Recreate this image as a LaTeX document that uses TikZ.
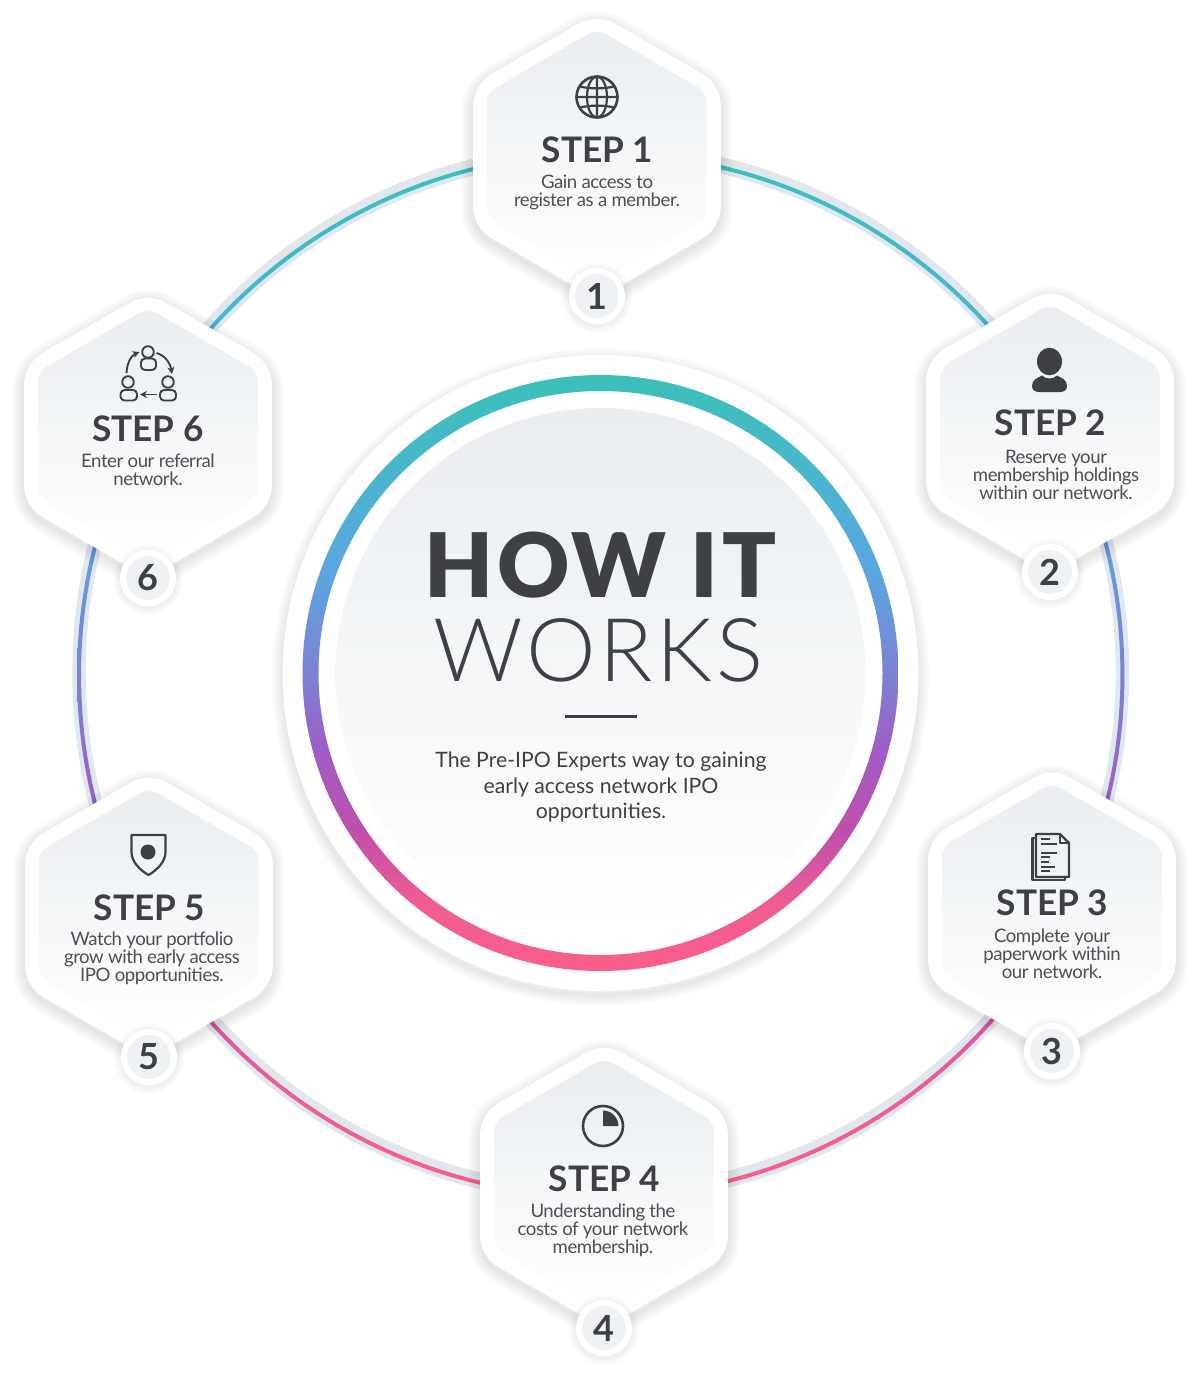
\documentclass[tikz,border=0pt]{standalone}
\usepackage{fontspec}
\usetikzlibrary{arrows.meta}
\setmainfont{Lato}
\newfontfamily\latoblack{Lato Black}[LetterSpace=4]
\newfontfamily\latolight{Lato Light}[LetterSpace=4]
\newfontfamily\latotight{Lato}[LetterSpace=-2.4]
\definecolor{ink}{HTML}{3E4043}
\definecolor{paleA}{HTML}{EAEEF1}
\definecolor{bandc}{HTML}{DFE7F1}
\definecolor{bandg}{HTML}{E5E6E7}
\definecolor{g1}{HTML}{3CC0B8}
\definecolor{g2}{HTML}{4AB5CE}
\definecolor{g3}{HTML}{5CA6E2}
\definecolor{g4}{HTML}{7C82D4}
\definecolor{g5}{HTML}{A05CC6}
\definecolor{g6}{HTML}{BD4FAC}
\definecolor{g7}{HTML}{EC5C94}
\definecolor{g8}{HTML}{FB5F88}
\pgfdeclareverticalshading{ringshade}{100bp}{
 color(0bp)=(g8); color(25bp)=(g8); color(31bp)=(g7); color(37bp)=(g6);
 color(43.5bp)=(g5); color(50bp)=(g4); color(58.5bp)=(g3); color(66bp)=(g2);
 color(75bp)=(g1); color(100bp)=(g1)}
\tikzset{
 x=0.5pt,y=-0.5pt,
 steptitle/.style={text=ink,inner sep=0,font=\fontsize{17.6}{18}\bfseries\selectfont},
 stepdesc/.style={text=ink!92,inner sep=0,align=center,font=\fontsize{9.3}{9}\latotight\selectfont},
 stepnum/.style={text=ink,inner sep=0,font=\fontsize{18}{18}\bfseries\selectfont},
 icon/.style={draw=ink,line width=1.3pt,line join=round},
 iconthin/.style={draw=ink,line width=.8pt,line join=round},
}
\newcommand{\hexpath}[3]{
 (#1,#2-#3) -- (#1+.866*#3,#2-.5*#3) -- (#1+.866*#3,#2+.5*#3) -- (#1,#2+#3) -- (#1-.866*#3,#2+.5*#3) -- (#1-.866*#3,#2-.5*#3) -- cycle}
\newcommand{\softhex}[2]{
 \foreach \w in {1,3,...,25}{
  \draw[black,opacity=.007,line width=\w*0.5pt,line join=round,rounded corners=10pt]
    \hexpath{#1}{#2+4}{143};}
 \fill[white,rounded corners=10pt] \hexpath{#1}{#2}{143};
 \shade[top color=paleA,bottom color=white,rounded corners=5pt] \hexpath{#1}{#2}{127};
}
\newcommand{\badge}[4]{
 \foreach \w in {1,3,...,15}{
  \draw[black,opacity=.007,line width=\w*0.5pt] (#1,#2+2) circle (28);}
 \fill[white] (#1,#2) circle (28);
 \fill[paleA!75] (#1,#2) circle (22);
 \node[stepnum] (#3) at (#1,#2) {#4};
}
\begin{document}
\begin{tikzpicture}
\useasboundingbox (0,0) rectangle (1200,1383);
\fill[white] (0,0) rectangle (1200,1383);
\coordinate (bandtop) at (600.75,671.5);
\coordinate (linec) at (600.75,675);
\coordinate (cen) at (600.5,673);
% outer ring
\draw[bandg,line width=6.6pt] (bandtop) circle (521.7);
\draw[bandc,line width=6.4pt] (linec) circle (521.7);
\shade[shading=ringshade,even odd rule] (linec) circle (523.7) (linec) circle (519.7);
% centre
\foreach \w in {1,3,...,23}{
 \draw[black,opacity=.006,line width=\w*0.5pt] (600.5,677) circle (318);}
\fill[white] (cen) circle (318);
\shade[shading=ringshade,even odd rule] (cen) circle (298) (cen) circle (282);
\shade[top color=paleA,bottom color=white] (cen) circle (265);
\node[inner sep=0,text=ink,font=\fontsize{44.5}{46}\latoblack\selectfont] (howit) at (600.5,565.5) {HOW IT};
\node[inner sep=0,text=ink,font=\fontsize{44}{46}\latolight\selectfont] (works) at (598.5,650.5) {WORKS};
\fill[ink] (565,715) rectangle (637,718);
\node[inner sep=0,text=ink,align=center,font=\fontsize{10.6}{12.8}\selectfont] (lead) at (601,787)
 {The Pre-IPO Experts way to gaining\\early access network IPO\\opportunities.};
% hexagons
\softhex{597}{156}\softhex{1050}{431}\softhex{1052}{910}\softhex{604}{1185}\softhex{149}{915}\softhex{148}{435}
\node[steptitle] (s1) at (597.5,150) {STEP 1};
\node[stepdesc] (d1) at (597,192) {Gain access to\\register as a member.};
\node[steptitle] (s2) at (1050.5,423) {STEP 2};
\node[stepdesc] (d2) at (1056,475) {Reserve your\\membership holdings\\within our network.};
\node[steptitle] (s3) at (1052.5,903) {STEP 3};
\node[stepdesc] (d3) at (1052,954) {Complete your\\paperwork within\\our network.};
\node[steptitle] (s4) at (604.5,1179) {STEP 4};
\node[stepdesc] (d4) at (603,1230.5) {Understanding the\\costs of your network\\membership.};
\node[steptitle] (s5) at (149.5,908) {STEP 5};
\node[stepdesc] (d5) at (152,958) {Watch your portfolio\\grow with early access\\IPO opportunities.};
\node[steptitle] (s6) at (148,429) {STEP 6};
\node[stepdesc] (d6) at (148,470) {Enter our referral\\network.};
\badge{597}{296}{b1}{1}
\badge{1050}{572}{b2}{2}
\badge{1052}{1051}{b3}{3}
\badge{604}{1328}{b4}{4}
\badge{149}{1057}{b5}{5}
\badge{148}{578}{b6}{6}
% globe
\begin{scope}[shift={(597,97)}]
 \draw[icon] (0,0) circle (20.5);
 \draw[iconthin,line width=1.1pt] (0,0) ellipse (10 and 20.5);
 \draw[iconthin,line width=1.1pt] (0,-20.5) -- (0,20.5) (-20.5,0) -- (20.5,0) (-17,-10.5) .. controls (-7,-8) and (7,-8) .. (17,-10.5) (-17,10.5) .. controls (-7,8) and (7,8) .. (17,10.5);
\end{scope}
% person
\fill[ink] (1049.5,361.5) ellipse (12.5 and 13.8);
\fill[ink] (1032,386) .. controls (1032,380) and (1037,378) .. (1042,375.5) .. controls (1046,379.5) and (1053,379.5) .. (1057,375.5) .. controls (1062,378) and (1067,380) .. (1067,386) .. controls (1067,390) and (1064,392) .. (1060,392) -- (1039,392) .. controls (1035,392) and (1032,390) .. (1032,386) -- cycle;
% document
\draw[iconthin,line width=1.1pt] (1036,838) -- (1032.5,838) -- (1032.5,880) -- (1065,880) -- (1065,877);
\draw[iconthin,line width=1.1pt] (1036,834) -- (1060,834) -- (1069,843) -- (1069,877) -- (1036,877) -- cycle;
\draw[iconthin,line width=.9pt] (1060,834) -- (1060,843) -- (1069,843);
\foreach \yy/\xx in {839/1050,844/1057,853/1057,857/1050,862/1049,867/1055,871/1050}{
 \draw[ink,line width=.9pt] (1041,\yy) -- (\xx,\yy);}
% clock
\draw[icon] (603,1126) circle (20);
\fill[ink] (603,1126) -- (603,1110.5) .. controls (611.5,1110.5) and (618.5,1117.5) .. (618.5,1126) -- cycle;
% shield
\draw[icon,line width=1.1pt] (131.5,835) -- (165.5,835) -- (165.5,852) .. controls (165.5,862) and (157,870) .. (148.5,875) .. controls (140,870) and (131.5,862) .. (131.5,852) -- cycle;
\fill[ink] (148,852) circle (7.5);
% people
\begin{scope}[iconthin,line width=.95pt]
 \draw (148,352) circle (5.8);
 \draw[rounded corners=2pt] (141,358.5) rectangle (156,370);
 \draw (128,382) circle (5.8);
 \draw[rounded corners=2pt] (120.5,390) rectangle (137,400.5);
 \draw (168,382) circle (5.8);
 \draw[rounded corners=2pt] (160,390) rectangle (176,400.5);
 \draw[-{Stealth[length=3.5pt,width=3.5pt]}] (126.5,373) .. controls (127,362) and (132,355) .. (139.5,352);
 \draw[-{Stealth[length=3.5pt,width=3.5pt]}] (156.5,353) .. controls (164,355) and (170,362) .. (172,374);
 \draw[-{Stealth[length=3.5pt,width=3.5pt]}] (157,394.5) -- (140,394.5);
\end{scope}
\end{tikzpicture}
\end{document}
